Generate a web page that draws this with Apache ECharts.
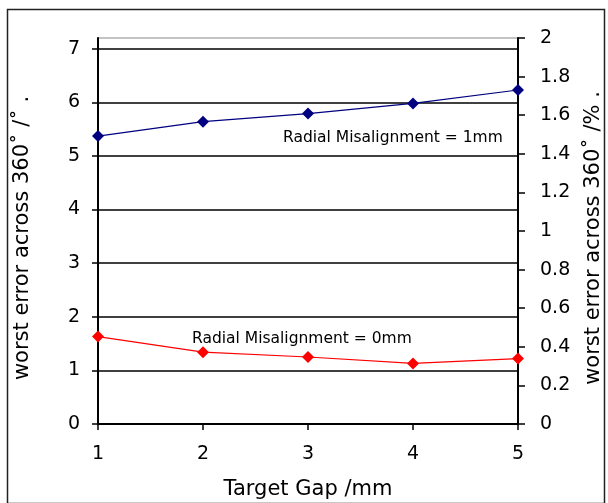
<!DOCTYPE html>
<html>
<head>
<meta charset="utf-8">
<script src="https://cdn.jsdelivr.net/npm/echarts@6/dist/echarts.min.js"></script>
<style>
  html, body { margin: 0; padding: 0; background: #fff; }
  #chart { width: 608px; height: 503px; }
</style>
</head>
<body>
<div id="chart"></div>
<script>
var gaps = [1, 2, 3, 4, 5];
var misalign1mm = [5.37, 5.64, 5.79, 5.98, 6.23];
var misalign0mm = [1.63, 1.34, 1.25, 1.13, 1.22];

var chart = echarts.init(document.getElementById('chart'));
var font = 'DejaVu Sans';

function pairs(ys) {
  return gaps.map(function (g, i) { return [g, ys[i]]; });
}

var option = {
  animation: false,
  backgroundColor: '#fff',
  grid: {
    left: 98, right: 90, top: 38, bottom: 79, outerBoundsMode: 'none',
    show: true, borderColor: '#888', borderWidth: 1
  },
  xAxis: {
    type: 'value', min: 1, max: 5, interval: 1,
    name: 'Target Gap /mm', nameLocation: 'middle', nameGap: 55,
    nameTextStyle: { fontFamily: font, fontSize: 21, color: '#000' },
    axisLine: { lineStyle: { color: '#000', width: 2 } },
    axisTick: { show: true, length: 6, lineStyle: { color: '#000', width: 1.5 } },
    axisLabel: { fontFamily: font, fontSize: 19, color: '#000', margin: 21 },
    splitLine: { show: false }
  },
  yAxis: [
    {
      type: 'value', min: 0, max: 7.2, interval: 1, position: 'left',
      name: 'worst error across 360˚ /˚ .', nameLocation: 'middle', nameGap: 65,
      nameTextStyle: { fontFamily: font, fontSize: 21, color: '#000', padding: [0, 14, 0, 0] },
      axisLine: { show: true, lineStyle: { color: '#000', width: 2 } },
      axisTick: { show: true, length: 6, lineStyle: { color: '#000', width: 1.5 } },
      axisLabel: { fontFamily: font, fontSize: 19, color: '#000', margin: 18, showMaxLabel: false },
      splitLine: { show: true, showMinLine: false, showMaxLine: false, lineStyle: { color: '#000', width: 1.5 } }
    },
    {
      type: 'value', min: 0, max: 2, interval: 0.2, position: 'right',
      name: 'worst error across 360˚ /% .', nameLocation: 'middle', nameGap: 65,
      nameRotate: 90,
      nameTextStyle: { fontFamily: font, fontSize: 21, color: '#000', padding: [0, 14, 0, 0] },
      axisLine: { show: true, lineStyle: { color: '#000', width: 2 } },
      axisTick: { show: true, length: 7, lineStyle: { color: '#000', width: 1.5 } },
      axisLabel: { fontFamily: font, fontSize: 19, color: '#000', margin: 22 },
      splitLine: { show: false }
    }
  ],
  series: [
    {
      type: 'line', name: 'Radial Misalignment = 1mm', yAxisIndex: 0,
      data: pairs(misalign1mm),
      symbol: 'diamond', symbolSize: 12,
      itemStyle: { color: '#000080' },
      lineStyle: { color: '#000080', width: 1.2 }
    },
    {
      type: 'line', name: 'Radial Misalignment = 0mm', yAxisIndex: 0,
      data: pairs(misalign0mm),
      symbol: 'diamond', symbolSize: 12,
      itemStyle: { color: '#ff0000' },
      lineStyle: { color: '#ff0000', width: 1.2 }
    }
  ],
  graphic: [
    { type: 'rect', left: 5, top: 7, shape: { width: 597, height: 494 },
      style: { fill: null, stroke: '#222', lineWidth: 1.5 }, silent: true, z: -1 },
    { type: 'text', x: 283, y: 138,
      style: { text: 'Radial Misalignment = 1mm', font: '15.5px "DejaVu Sans"', fill: '#000',
               align: 'left', verticalAlign: 'middle' } },
    { type: 'text', x: 192, y: 339,
      style: { text: 'Radial Misalignment = 0mm', font: '15.5px "DejaVu Sans"', fill: '#000',
               align: 'left', verticalAlign: 'middle' } }
  ]
};

chart.setOption(option);
window.onresize = chart.resize;
</script>
</body>
</html>
